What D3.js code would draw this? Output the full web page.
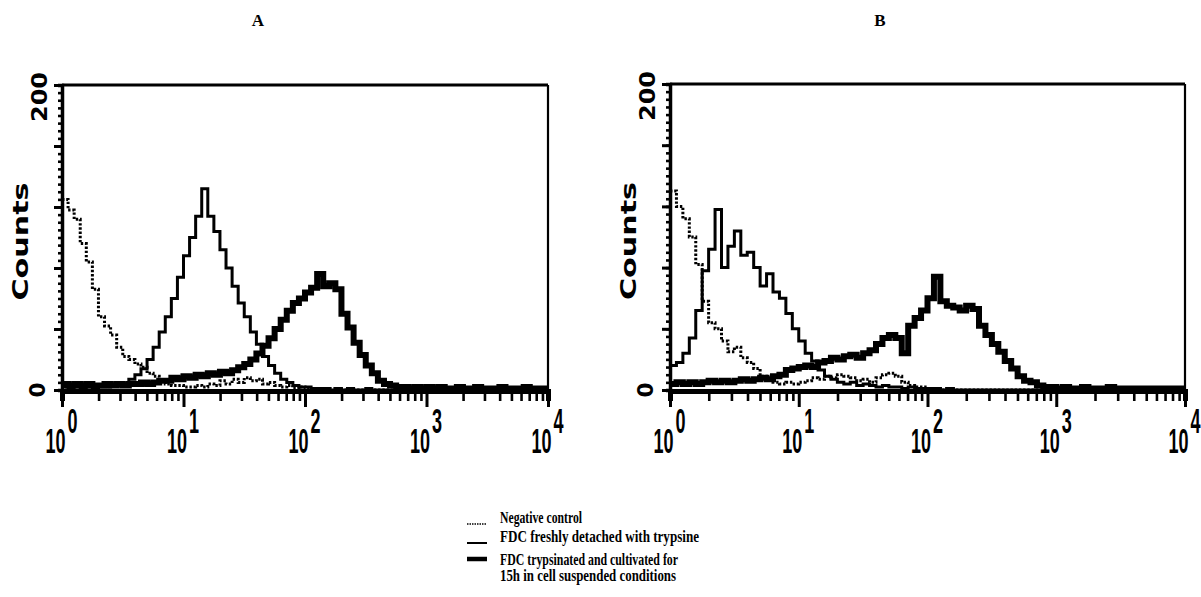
<!DOCTYPE html>
<html>
<head>
<meta charset="utf-8">
<script src="https://cdn.jsdelivr.net/npm/d3@7"></script>
<style>
  body { margin: 0; background: #fff; }
  svg { display: block; }
</style>
</head>
<body>
<svg id="chart" width="1201" height="597"></svg>
<script>
// channel positions: log10 of fluorescence, 0.05 decade bins from 10^0 to 10^4
const logBins = d3.range(0, 81).map((i) => i / 20);
const decades = [1, 10, 100, 1000, 10000];

// panel A - counts per bin
const negA = [125, 118, 112, 96, 84, 66, 48, 42, 36, 28, 22, 20, 17, 15, 11, 9, 6, 4, 3, 3, 2,
  2, 3, 2, 4, 3, 6, 4, 7, 5, 8, 6, 7, 4, 5, 3, 2, 3, 1, 2, 1,
  1, 1, 0, 1, 0, 0, 0, 0, 0, 0, 0, 0, 0, 0, 0, 0, 0, 0, 0, 0,
  0, 0, 0, 0, 0, 0, 0, 0, 0, 0, 0, 0, 0, 0, 0, 0, 0, 0, 0, 0];
const freshA = [2, 1, 2, 1, 2, 1, 2, 2, 3, 3, 4, 7, 10, 14, 20, 28, 38, 48, 60, 74, 88,
  100, 114, 132, 114, 104, 92, 80, 68, 57, 48, 38, 30, 22, 16, 11, 7, 5, 3, 2, 2,
  1, 1, 1, 0, 1, 0, 1, 0, 0, 1, 0, 0, 0, 0, 0, 0, 0, 0, 0, 0,
  0, 0, 0, 0, 0, 0, 0, 0, 0, 0, 0, 0, 0, 0, 0, 0, 0, 0, 0, 0];
const cultA = [4, 3, 4, 3, 4, 3, 3, 4, 3, 4, 3, 4, 4, 5, 4, 5, 6, 6, 8, 7, 9,
  8, 10, 9, 11, 10, 12, 11, 13, 15, 17, 20, 24, 29, 34, 40, 46, 52, 57, 60, 64,
  67, 76, 68, 70, 66, 50, 41, 31, 23, 16, 11, 6, 4, 3, 2, 2, 1, 2, 1, 2,
  1, 2, 1, 1, 2, 1, 1, 2, 1, 1, 1, 2, 1, 1, 1, 2, 1, 1, 1, 1];

// panel B - counts per bin
const negB = [130, 120, 112, 100, 82, 58, 44, 40, 32, 25, 28, 21, 18, 14, 9, 7, 5, 4, 5, 4, 5,
  6, 8, 7, 9, 8, 10, 9, 8, 6, 7, 5, 8, 10, 11, 9, 5, 3, 2, 2, 1,
  1, 0, 1, 0, 0, 0, 0, 0, 0, 0, 0, 0, 0, 0, 0, 0, 0, 0, 0, 0,
  0, 0, 0, 0, 0, 0, 0, 0, 0, 0, 0, 0, 0, 0, 0, 0, 0, 0, 0, 0];
const freshB = [16, 18, 24, 34, 52, 78, 92, 118, 80, 94, 104, 88, 90, 80, 68, 76, 64, 60, 50, 40, 32,
  24, 19, 13, 9, 7, 5, 4, 5, 3, 4, 3, 2, 3, 2, 2, 1, 2, 1, 1, 1,
  1, 0, 1, 0, 0, 0, 0, 0, 0, 0, 0, 0, 0, 0, 0, 0, 0, 0, 0, 0,
  0, 0, 0, 0, 0, 0, 0, 0, 0, 0, 0, 0, 0, 0, 0, 0, 0, 0, 0, 0];
const cultB = [4, 5, 4, 5, 4, 5, 6, 5, 6, 5, 6, 7, 6, 7, 8, 7, 9, 10, 13, 14, 15,
  16, 15, 18, 19, 21, 20, 22, 23, 21, 24, 26, 30, 34, 36, 34, 24, 42, 47, 52, 60,
  74, 58, 55, 54, 52, 55, 53, 42, 36, 30, 25, 19, 14, 9, 6, 5, 3, 2, 2, 1,
  2, 1, 1, 2, 1, 1, 1, 2, 1, 1, 1, 1, 1, 1, 1, 1, 1, 1, 1, 1];

const legendLabels = [
  ["Negative control"],
  ["FDC  freshly detached with trypsine"],
  ["FDC trypsinated and cultivated for", "15h in cell suspended conditions"]
];

const svg = d3.select("#chart");
svg.append("rect").attr("width", 1201).attr("height", 597).attr("fill", "#fff");

const styles = [
  { width: 3, dash: "2.4,1.8" },  // negative control
  { width: 3, dash: null },       // freshly detached
  { width: 6, dash: null }        // cultivated 15h
];

function drawPanel(p) {
  const x = d3.scaleLog().domain([1, 1e4]).range([p.left, p.right]);
  const y = d3.scaleLinear().domain([0, 200]).range([390, p.top]);
  const g = svg.append("g");

  // frame top + right
  g.append("line").attr("x1", p.left).attr("x2", p.right).attr("y1", p.top).attr("y2", p.top)
    .attr("stroke", "#000").attr("stroke-width", 3);
  g.append("line").attr("x1", p.right).attr("x2", p.right).attr("y1", p.top).attr("y2", 392)
    .attr("stroke", "#000").attr("stroke-width", 2.2);

  // histograms
  const line = d3.line()
    .x((d) => x(Math.pow(10, d[0])))
    .y((d) => y(d[1]))
    .curve(d3.curveStepAfter);

  p.series.forEach((vals, k) => {
    const pts = logBins.map((l, i) => [l, vals[i]]);
    g.append("path")
      .datum(pts)
      .attr("d", line)
      .attr("fill", "none")
      .attr("stroke", "#000")
      .attr("stroke-width", styles[k].width)
      .attr("stroke-dasharray", styles[k].dash)
      .attr("stroke-linejoin", "miter");
  });

  // x axis, minor log ticks
  const minor = [];
  for (let d = 1; d < 1e4; d *= 10) for (let m = 2; m <= 9; m++) minor.push(d * m);
  const xMinor = g.append("g").attr("transform", "translate(0,391)")
    .call(d3.axisBottom(x).tickValues(minor).tickSize(10).tickFormat(""));
  xMinor.select(".domain").attr("stroke-width", 5);
  xMinor.selectAll(".tick line").attr("stroke-width", 2.6);

  const xMajor = g.append("g").attr("transform", "translate(0,391)")
    .call(d3.axisBottom(x).tickValues(decades).tickSize(16).tickFormat(""));
  xMajor.select(".domain").remove();
  xMajor.selectAll(".tick line").attr("stroke-width", 3);
  xMajor.selectAll(".tick").each(function (d, i) {
    const t = d3.select(this).append("g")
      .attr("transform", "translate(3,62) scale(0.5,1)")
      .attr("font-family", "Liberation Sans, Arial, sans-serif")
      .attr("font-weight", "bold")
      .attr("font-size", 36)
      .attr("fill", "#000");
    t.append("text").attr("text-anchor", "end").attr("x", 0).attr("y", 0).text("10");
    t.append("text").attr("text-anchor", "start").attr("x", 4).attr("y", -20).text(i);
  });

  // y axis
  const yMinor = g.append("g").attr("transform", `translate(${p.left},0)`)
    .call(d3.axisLeft(y).tickValues(d3.range(0, 201, 5)).tickSize(4).tickFormat(""));
  yMinor.select(".domain").attr("stroke-width", 3.5);
  yMinor.selectAll(".tick line").attr("stroke-width", 2.6).attr("x2", -4).attr("x1", 2);
  const yMajor = g.append("g").attr("transform", `translate(${p.left},0)`)
    .call(d3.axisLeft(y).tickValues(d3.range(0, 201, 40)).tickSize(8).tickFormat(""));
  yMajor.select(".domain").remove();
  yMajor.selectAll(".tick line").attr("stroke-width", 3);

  const font = "DejaVu Sans, Verdana, sans-serif";
  g.append("text")
    .attr("transform", `translate(${p.left - 17},${y(0)}) rotate(-90)`)
    .attr("text-anchor", "middle")
    .attr("font-family", font).attr("font-weight", "bold").attr("font-size", 21)
    .attr("textLength", 15).attr("lengthAdjust", "spacingAndGlyphs")
    .text("0");
  g.append("text")
    .attr("transform", `translate(${p.left - 15},${y(200) + 12}) rotate(-90)`)
    .attr("text-anchor", "middle")
    .attr("font-family", font).attr("font-weight", "bold").attr("font-size", 21)
    .attr("textLength", 50).attr("lengthAdjust", "spacingAndGlyphs")
    .text("200");
  g.append("text")
    .attr("transform", `translate(${p.left - 34},${(y(0) + y(200)) / 2 + 4}) rotate(-90)`)
    .attr("text-anchor", "middle")
    .attr("font-family", font).attr("font-weight", "bold").attr("font-size", 21)
    .attr("textLength", 118).attr("lengthAdjust", "spacingAndGlyphs")
    .text("Counts");

  // panel letter
  svg.append("text")
    .attr("x", p.titleX).attr("y", 26)
    .attr("text-anchor", "middle")
    .attr("font-family", "Liberation Serif, Times New Roman, serif")
    .attr("font-weight", "bold").attr("font-size", 17)
    .text(p.title);
}

drawPanel({ title: "A", titleX: 258, left: 62, right: 548, top: 85, series: [negA, freshA, cultA] });
drawPanel({ title: "B", titleX: 880, left: 670, right: 1185, top: 84, series: [negB, freshB, cultB] });

// legend
const lg = svg.append("g").attr("font-family", "Liberation Serif, Times New Roman, serif")
  .attr("font-weight", "bold").attr("font-size", 16);
const rowY = [523, 542, 565];
const rowLen = [[82], [199], [178, 176]];
legendLabels.forEach((lines, k) => {
  const sy = k === 2 ? rowY[k] - 6 : rowY[k] + 1;
  lg.append("line")
    .attr("x1", 467).attr("x2", 487).attr("y1", sy).attr("y2", sy)
    .attr("stroke", "#000")
    .attr("stroke-width", k === 0 ? 1.5 : k === 1 ? 2 : 4.5)
    .attr("stroke-dasharray", k === 0 ? "1.5,1" : null);
  lines.forEach((s, j) => {
    lg.append("text")
      .attr("x", 500).attr("y", rowY[k] + j * 16)
      .attr("textLength", rowLen[k][j]).attr("lengthAdjust", "spacingAndGlyphs")
      .text(s);
  });
});
</script>
</body>
</html>
